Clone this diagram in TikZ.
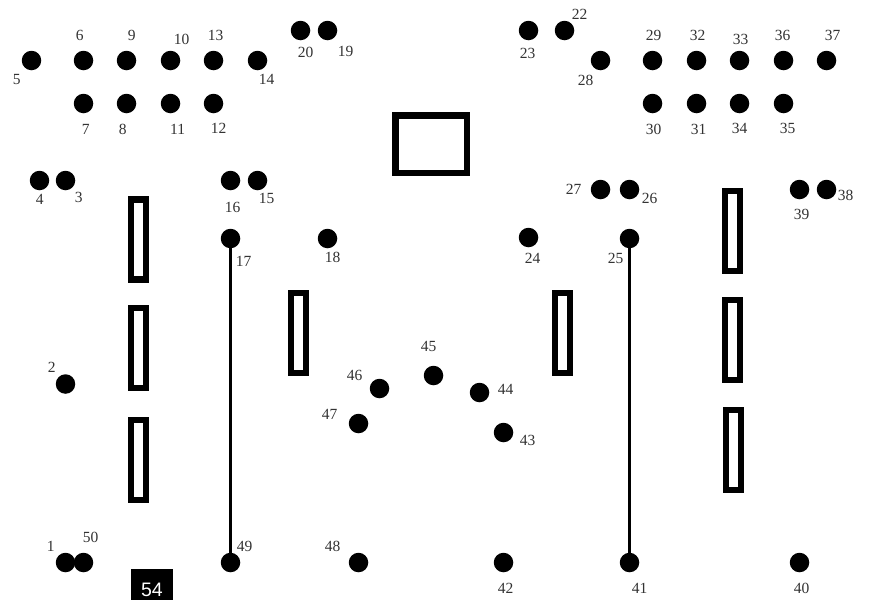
\documentclass[tikz,border=0pt]{standalone}
\usepackage{fontspec}
\setmainfont{Liberation Serif}
\newfontfamily\boxfont{Liberation Sans}
\tikzset{
  dot/.style={circle,fill=black,draw=none,minimum size=19.5pt,inner sep=0pt},
  lbl/.style={font=\fontsize{15.5}{16}\selectfont,inner sep=0pt,text=black!80,xshift=0.7pt},
  slot/.style={draw=black,line width=6.5pt,fill=white,inner sep=0pt,minimum width=15pt,minimum height=80pt},
  bigbox/.style={draw=black,line width=6.5pt,fill=white,inner sep=0pt,minimum width=71.5pt,minimum height=57.5pt},
  rail/.style={draw=black,line width=3.4pt},
  tag/.style={fill=black,text=white,font=\boxfont\fontsize{19.5}{20}\selectfont,inner sep=0pt,minimum width=42pt,minimum height=31pt}
}
\begin{document}
\begin{tikzpicture}[x=1pt,y=-1pt]
\useasboundingbox (0,0) rectangle (870,600);
\fill[white] (0,0) rectangle (870,600);
\foreach \n/\x/\y in {1/65.5/562.5,50/83.5/562.5,2/65.5/384,3/65.5/180.5,4/39.5/180.5,5/31.5/60.5,6/83.5/60.5,7/83.5/103.5,8/126.5/103.5,9/126.5/60.5,10/170.5/60.5,11/170.5/103.5,12/213.5/103.5,13/213.5/60.5,14/257.5/60.5,15/257.5/180.5,16/230.5/180.5,17/230.5/238.5,18/327.5/238.5,19/327.5/30.5,20/300.5/30.5,22/564.5/30.5,23/528.5/30.5,24/528.5/237.5,25/629.5/238.5,26/629.5/189.5,27/600.5/189.5,28/600.5/60.5,29/652.5/60.5,30/652.5/103.5,31/696.5/103.5,32/696.5/60.5,33/739.5/60.5,34/739.5/103.5,35/783.5/103.5,36/783.5/60.5,37/826.5/60.5,38/826.5/189.5,39/799.5/189.5,40/799.5/562.5,41/629.5/562.5,42/503.5/562.5,43/503.5/432.5,44/479.5/392.5,45/433.5/375.5,46/379.5/388.5,47/358.5/423.5,48/358.5/562.5,49/230.5/562.5}
  \node[dot] (d\n) at (\x,\y) {};
\draw[rail] (d17) -- (d49);
\draw[rail] (d25) -- (d41);
\foreach \n/\x/\y in {a/138.5/239.5,b/138.5/348,c/138.5/460,d/298.5/333,e/562.5/333,f/732.5/231,g/732.5/340,h/733.5/450}
  \node[slot] (s\n) at (\x,\y) {};
\node[bigbox] (main) at (431,144) {};
\node[tag] (t54) at (152,584.5) {\smash{\raisebox{-11.5pt}{54}}};
\foreach \t/\x/\y in {1/50/546,50/90/537,2/51/367,3/78/197,4/39/199,5/16/79,6/79/35,7/85/129,8/122/129,9/131/35,10/181/39,11/177/129,12/218/128,13/215/35,14/266/79,15/266/198,16/232/207,17/243/261,18/332/257,19/345/51,20/305/52,22/579/14,23/527/53,24/532/258,25/615/258,26/649/198,27/573/189,28/585/80,29/653/35,30/653/129,31/698/129,32/697/35,33/740/39,34/739/128,35/787/128,36/782/35,37/832/35,38/845/195,39/801/214,40/801/588,41/639/588,42/505/588,43/527/440,44/505/389,45/428/346,46/354/375,47/329/414,48/332/546,49/244/546}
  \node[lbl] (l\t) at (\x,\y) {\t};
\end{tikzpicture}
\end{document}
